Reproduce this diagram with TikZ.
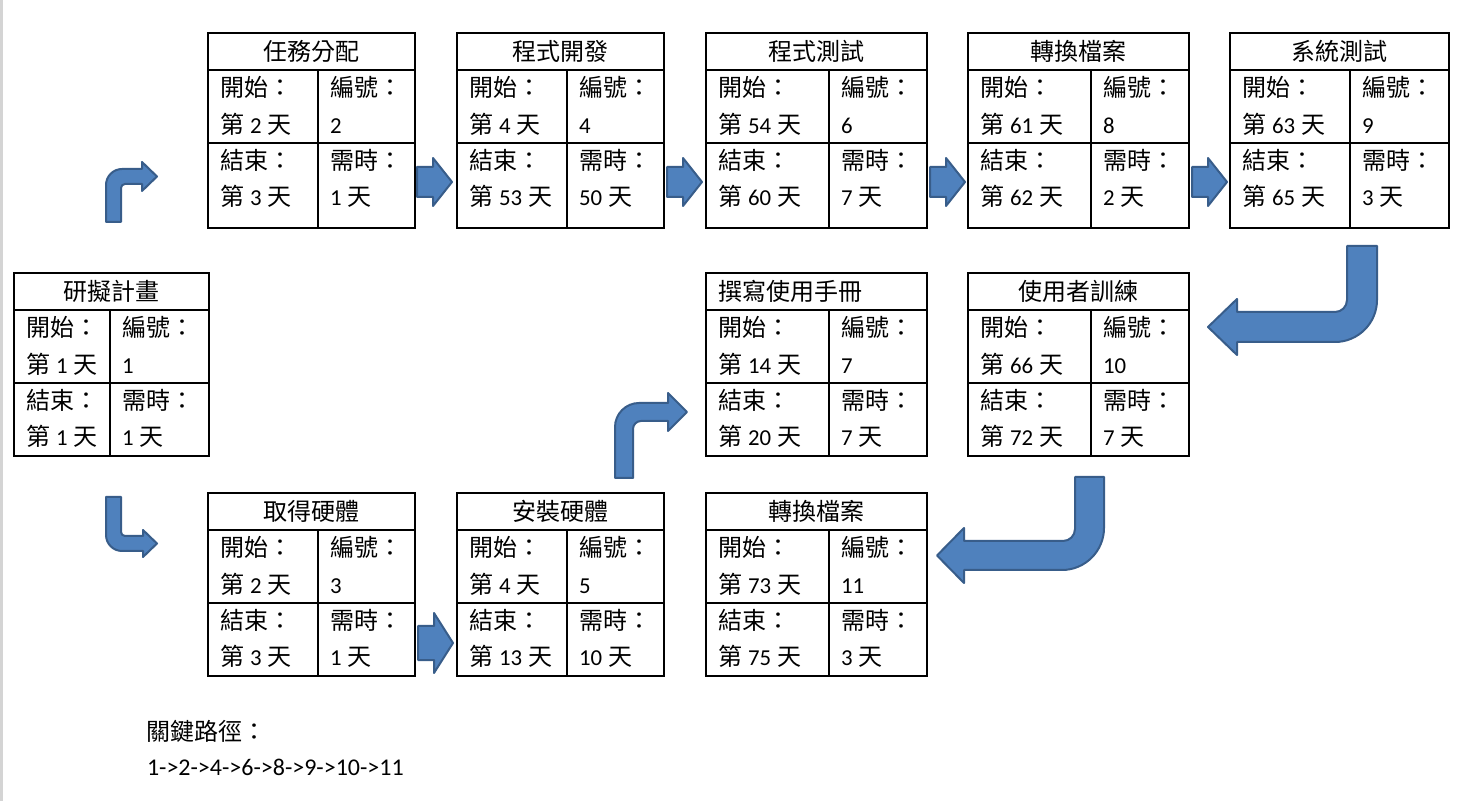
\documentclass[tikz,border=0pt]{standalone}
\usepackage{fontspec}
\setmainfont{Noto Sans CJK TC}
\newfontfamily\lat{Carlito}
\newfontfamily\lsm[Scale=0.95]{Carlito}
\definecolor{afill}{RGB}{79,129,189}
\definecolor{aline}{RGB}{56,93,138}
\definecolor{edgegray}{RGB}{212,212,212}
\newcommand\dy[1]{第\hspace{3pt}{\lsm #1}\hspace{3pt}天}
\newcommand\dd[1]{{\lsm #1}\hspace{3pt}天}
\newcommand\nm[1]{{\lsm #1}}
\newif\ifttlleft
\tikzset{
  box/.style={draw=black, line width=0.8pt, inner sep=0pt, outer sep=0pt, anchor=north west},
  grid/.style={draw=black, line width=0.8pt},
  txt/.style={inner sep=0pt, outer sep=0pt, anchor=base west, font=\fontsize{12}{14}\selectfont},
  barrow/.style={fill=afill, draw=aline, line width=1pt, line join=round}
}
% #1 name, #2 x, #3 y, #4 title, #5 start, #6 id, #7 end, #8 duration
\newcommand\taskbox[8]{%
  \node[box, minimum width=\bw*0.5pt, minimum height=\bh*0.5pt] (#1) at (#2,#3) {};
  \draw[grid] (#2,#3+37) -- (#2+\bw,#3+37);
  \draw[grid] (#2,#3+110) -- (#2+\bw,#3+110);
  \draw[grid] (#2+\bd,#3+37) -- (#2+\bd,#3+\bh);
  \ifttlleft
    \node[txt] (#1-t) at (#2+12,#3+28) {#4};
  \else
    \node[txt, anchor=base] (#1-t) at (#2+\bw/2,#3+28) {#4};
  \fi
  \node[txt] (#1-sl) at (#2+12,#3+64) {開始：};
  \node[txt] (#1-sv) at (#2+12,#3+101) {#5};
  \node[txt] (#1-el) at (#2+12,#3+137) {結束：};
  \node[txt] (#1-ev) at (#2+12,#3+173) {#7};
  \node[txt] (#1-il) at (#2+\bd+12,#3+64) {編號：};
  \node[txt] (#1-iv) at (#2+\bd+12,#3+101) {#6};
  \node[txt] (#1-dl) at (#2+\bd+12,#3+137) {需時：};
  \node[txt] (#1-dv) at (#2+\bd+12,#3+173) {#8};
}
% straight right block arrow: #1 x, #2 y centre, #3 shaft half, #4 head half
\newcommand\rarrow[4]{%
  \draw[barrow] (#1,#2-#3) -- (#1+16,#2-#3) -- (#1+16,#2-#4) -- (#1+35,#2)
    -- (#1+16,#2+#4) -- (#1+16,#2+#3) -- (#1,#2+#3) -- cycle;
}
\begin{document}
\begin{tikzpicture}[x=0.5pt,y=-0.5pt]
\useasboundingbox (0,0) rectangle (1467,801);
\fill[white] (0,0) rectangle (1467,801);
\fill[edgegray] (0,0) rectangle (2.5,801);

% --- boxes ---
\def\bw{207}\def\bd{110}\def\bh{195}
\taskbox{b2}{208}{33}{任務分配}{\dy{2}}{\nm{2}}{\dy{3}}{\dd{1}}
\taskbox{b4}{457}{33}{程式開發}{\dy{4}}{\nm{4}}{\dy{53}}{\dd{50}}
\def\bw{221}\def\bd{123}
\taskbox{b6}{706}{33}{程式測試}{\dy{54}}{\nm{6}}{\dy{60}}{\dd{7}}
\taskbox{b8}{968}{33}{轉換檔案}{\dy{61}}{\nm{8}}{\dy{62}}{\dd{2}}
\def\bw{219}\def\bd{120}
\taskbox{b9}{1230}{33}{系統測試}{\dy{63}}{\nm{9}}{\dy{65}}{\dd{3}}

\def\bw{195}\def\bd{96}\def\bh{183}
\taskbox{b1}{14}{273}{研擬計畫}{\dy{1}}{\nm{1}}{\dy{1}}{\dd{1}}
\def\bw{221}\def\bd{123}
\ttllefttrue
\taskbox{b7}{706}{273}{撰寫使用手冊}{\dy{14}}{\nm{7}}{\dy{20}}{\dd{7}}
\ttlleftfalse
\taskbox{b10}{968}{273}{使用者訓練}{\dy{66}}{\nm{10}}{\dy{72}}{\dd{7}}

\def\bw{207}\def\bd{110}
\taskbox{b3}{208}{493}{取得硬體}{\dy{2}}{\nm{3}}{\dy{3}}{\dd{1}}
\taskbox{b5}{457}{493}{安裝硬體}{\dy{4}}{\nm{5}}{\dy{13}}{\dd{10}}
\def\bw{221}\def\bd{123}
\taskbox{b11}{706}{493}{轉換檔案}{\dy{73}}{\nm{11}}{\dy{75}}{\dd{3}}

% --- straight arrows ---
\rarrow{417}{182}{15}{24}
\rarrow{667}{182}{15}{24}
\rarrow{930}{182}{15}{24}
\rarrow{1192}{182}{15}{24}
\rarrow{418}{643}{17}{30}

% --- bent arrow up then right (top left) ---
\draw[barrow] (106,222) -- (106,185) .. controls (106,176.2) and (113.2,169) .. (122,169)
  -- (142,169) -- (142,162) -- (157,176.5) -- (142,191) -- (142,184) -- (125,184)
  .. controls (122.8,184) and (121,185.8) .. (121,188) -- (121,222) -- cycle;

% --- bent arrow down then right (bottom left) ---
\draw[barrow] (106,497) -- (106,535) .. controls (106,543.8) and (113.2,551) .. (122,551)
  -- (143,551) -- (143,557) -- (157,543.5) -- (143,530) -- (143,536) -- (125,536)
  .. controls (122.8,536) and (121,534.2) .. (121,532) -- (121,497) -- cycle;

% --- bent arrow up then right (middle) ---
\draw[barrow] (615,478) -- (615,427) .. controls (615,413.8) and (625.8,403) .. (639,403)
  -- (668,403) -- (668,393) -- (687,412) -- (668,431) -- (668,421) -- (641,421)
  .. controls (636.6,421) and (633,424.6) .. (633,429) -- (633,478) -- cycle;

% --- U-turn arrow (right) ---
\draw[barrow] (1377,246) -- (1377,300) .. controls (1377,323.1) and (1358.1,342) .. (1335,342)
  -- (1237,342) -- (1237,355) -- (1208,327) -- (1237,299) -- (1237,312) -- (1335,312)
  .. controls (1341.6,312) and (1347,306.6) .. (1347,300) -- (1347,246) -- cycle;

% --- U-turn arrow (lower) ---
\draw[barrow] (1104,477) -- (1104,528) .. controls (1104,551.1) and (1085.1,570) .. (1062,570)
  -- (964,570) -- (964,583) -- (937,555.5) -- (964,528) -- (964,541) -- (1063,541)
  .. controls (1069.6,541) and (1075,535.6) .. (1075,529) -- (1075,477) -- cycle;

% --- critical path ---
\node[txt] (cpl) at (146,740) {關鍵路徑：};
\node[txt] (cpv) at (147,775) {\lat 1->2->4->6->8->9->10->11};
\end{tikzpicture}
\end{document}
